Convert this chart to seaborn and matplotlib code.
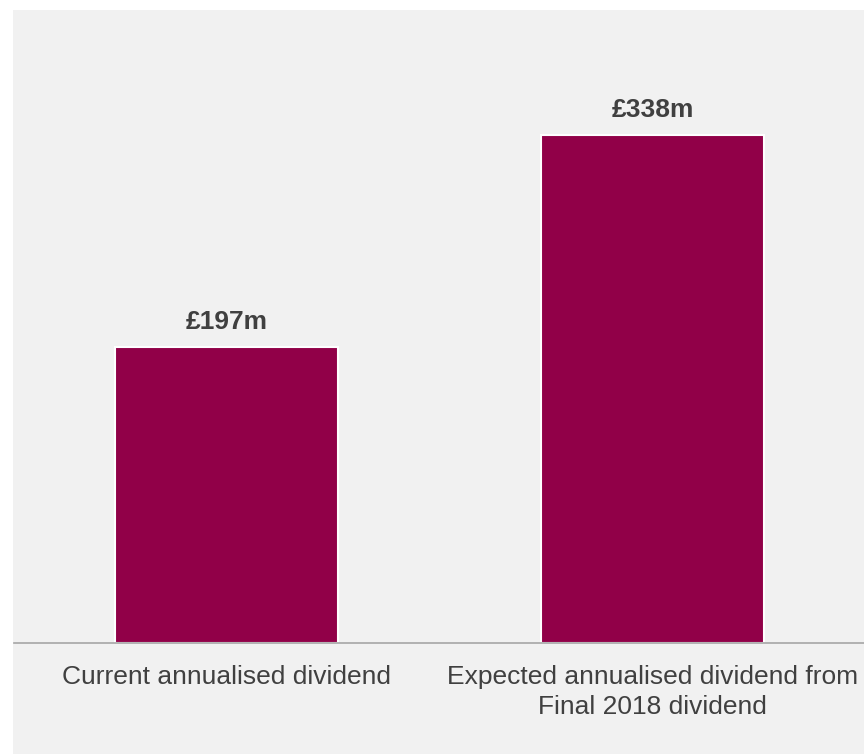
import matplotlib
matplotlib.use("Agg")
import matplotlib.pyplot as plt
from matplotlib.patches import Rectangle
import seaborn as sns
import pandas as pd

categories = ["Current annualised dividend",
              "Expected annualised dividend from\nFinal 2018 dividend"]
values = [197, 338]
value_labels = ["£197m", "£338m"]

BAR_COLOR = "#910048"
PANEL = "#f1f1f1"
TEXT = "#404040"

sns.set_theme(style="white")
plt.rcParams["font.family"] = ["Liberation Sans", "DejaVu Sans"]

df = pd.DataFrame({"category": categories, "value": values})

fig = plt.figure(figsize=(8.64, 7.54), dpi=100, facecolor="white")
# grey panel behind the chart
fig.patches.append(Rectangle((13 / 864, 0), 1, 1 - 10 / 754,
                             transform=fig.transFigure, facecolor=PANEL,
                             edgecolor="none", zorder=-10))

ax = fig.add_axes([13.5 / 864, 111 / 754, 852 / 864, 633 / 754])
ax.set_facecolor("none")
ax.set_zorder(5)

sns.barplot(data=df, x="category", y="value", hue="category",
            palette=[BAR_COLOR, BAR_COLOR], legend=False, width=0.523,
            edgecolor="white", linewidth=1.5, saturation=1, ax=ax)

ax.set_xlim(-0.5, 1.5)
ax.set_ylim(0, 421)

for container, lab in zip(ax.containers, value_labels):
    ax.bar_label(container, labels=[lab], padding=9, fontsize=19,
                 fontweight="bold", color=TEXT)

ax.set_xlabel("")
ax.set_ylabel("")
ax.set_yticks([])
ax.tick_params(axis="x", length=0, pad=16, labelsize=19, labelcolor=TEXT)
for t in ax.get_xticklabels():
    t.set_linespacing(1.32)

for side in ["top", "right", "left"]:
    ax.spines[side].set_visible(False)
ax.spines["bottom"].set_color("#a6a6a6")
ax.spines["bottom"].set_linewidth(1.2)

fig.savefig("out.png", dpi=100, facecolor="white")
